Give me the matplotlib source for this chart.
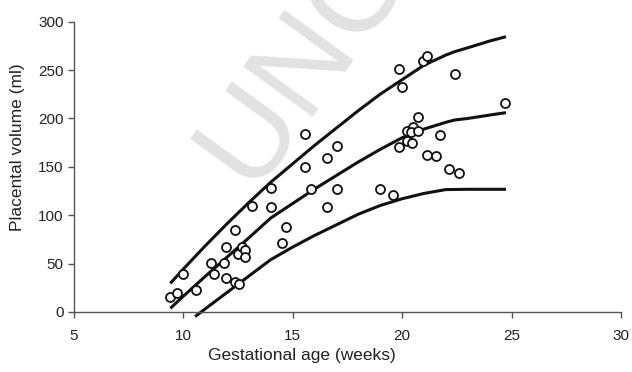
import numpy as np
import matplotlib
matplotlib.use("Agg")
import matplotlib.pyplot as plt

plt.rcParams["font.family"] = ["Liberation Sans", "DejaVu Sans"]

# observed placental volumes (weeks, ml)
obs_weeks = [9.42, 9.71, 9.99, 10.58, 11.26, 11.43, 11.87, 11.98, 11.98, 12.39,
             12.39, 12.54, 12.53, 12.71, 12.83, 12.83, 13.15, 14.02, 14.02, 14.53,
             14.70, 15.56, 15.56, 15.83, 16.59, 16.59, 17.02, 17.02, 19.00, 19.60,
             19.85, 20.01, 19.88, 20.25, 20.52, 20.40, 20.72, 20.72, 20.24, 20.44,
             20.97, 21.14, 21.13, 21.55, 21.74, 22.16, 22.42, 22.60, 24.70]
obs_volume = [15.2, 19.3, 39.3, 22.7, 50.3, 39.3, 50.3, 67.5, 34.8, 84.7,
              31.3, 28.6, 59.9, 67.5, 64.0, 56.5, 109.8, 128.1, 108.5, 71.0,
              88.1, 183.9, 150.1, 126.8, 158.8, 108.8, 171.8, 127.1, 127.1, 120.9,
              250.7, 232.8, 170.8, 186.8, 191.4, 186.3, 186.9, 201.1, 176.5, 174.3,
              259.3, 264.5, 162.2, 161.2, 182.9, 147.7, 246.2, 143.9, 215.6]

# reference curves
curve_weeks = [9.42, 10, 11, 12, 13, 14, 15, 16, 17, 18, 19, 20, 21, 22, 22.4, 23, 24, 24.75]
upper = [29.6, 44, 68, 91, 113, 134, 153, 172, 190, 208, 225, 240, 255, 265.5, 269, 273, 280, 284.5]
middle = [3.8, 16, 36.5, 56.5, 76.5, 97, 112, 127, 141, 155, 168, 180, 189, 196, 198.4, 200, 203.5, 206]
lower_weeks = [10.55, 11, 12, 13, 14, 15, 16, 17, 18, 19, 20, 21, 22, 23, 24, 24.75]
lower = [-4.8, 3, 20, 37, 54, 67, 79, 90, 101, 110, 117, 122.5, 126.5, 126.8, 126.8, 126.8]

fig = plt.figure(figsize=(6.32, 3.72), dpi=100)
ax = fig.add_axes([0.1163, 0.1613, 0.8663, 0.7804])

# watermark, kept inside a full-figure background axes
bg = fig.add_axes([0, 0, 1, 1], zorder=-1)
bg.axis("off")
bg.text(0.397, 0.49, "UNC", fontsize=90, color="#e2e2e2", clip_on=True,
        rotation=54, rotation_mode="anchor", ha="left", va="baseline")

for ys, xs in [(upper, curve_weeks), (middle, curve_weeks), (lower, lower_weeks)]:
    ax.plot(xs, ys, color="#111111", lw=2.2, solid_capstyle="butt", clip_on=False, zorder=2)

ax.scatter(obs_weeks, obs_volume, s=42, facecolors="white", edgecolors="#111111",
           linewidths=1.3, zorder=3)

ax.set_xlim(5, 30)
ax.set_ylim(0, 300)
ax.set_xticks([5, 10, 15, 20, 25, 30])
ax.set_yticks([0, 50, 100, 150, 200, 250, 300])
ax.patch.set_alpha(0)
for s in ["top", "right"]:
    ax.spines[s].set_visible(False)
for s in ["left", "bottom"]:
    ax.spines[s].set_color("#555555")
    ax.spines[s].set_linewidth(1.0)
ax.tick_params(direction="out", length=4, width=1.0, color="#555555",
               labelsize=11, labelcolor="#222222", pad=3)
ax.tick_params(axis="x", pad=8)
ax.set_xlabel("Gestational age (weeks)", fontsize=12.5, color="#222222")
ax.set_ylabel("Placental volume (ml)", fontsize=12.5, color="#222222")
ax.xaxis.set_label_coords(0.417, -0.124)
ax.yaxis.set_label_coords(-0.089, 0.567)

fig.savefig("out.png", dpi=100)
